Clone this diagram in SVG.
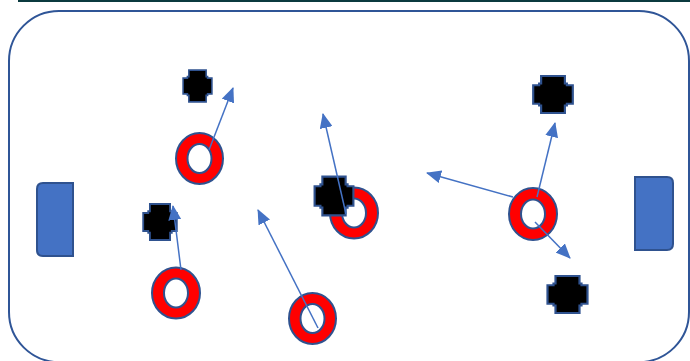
<svg xmlns="http://www.w3.org/2000/svg" width="690" height="361" viewBox="0 0 690 361">
<style>
.rink{fill:#FFFFFF;stroke:#2F5597;stroke-width:2}
.goal{fill:#4472C4;stroke:#2F528F;stroke-width:2}
.ring{fill:#FF0000;fill-rule:evenodd;stroke:#2F528F;stroke-width:2}
.cross{fill:#000000;stroke:#2F528F;stroke-width:2.2;vector-effect:non-scaling-stroke}
.arrow{fill:none;stroke:#4472C4;stroke-width:1.5;marker-end:url(#head)}
</style>
<defs>
<marker id="head" viewBox="0 0 15 13" refX="14" refY="6.5" markerWidth="15" markerHeight="13" markerUnits="userSpaceOnUse" orient="auto">
<path d="M0,0 L15,6.5 L0,13 Z" fill="#4472C4"/>
</marker>
<path id="crossShape" d="M-12,-20 H12 V-12 H14 V-10 H20 V10 H14 V12 H12 V20 H-12 V12 H-14 V10 H-20 V-10 H-14 V-12 H-12 Z"/>
</defs>
<rect width="690" height="361" fill="#FFFFFF"/>
<line x1="18" y1="1" x2="690" y2="1" stroke="#0B3A3F" stroke-width="2"/>
<g id="rink">
<rect class="rink" x="9" y="11" width="680" height="351" rx="50" ry="50"/>
</g>
<g id="goal-left">
<path class="goal" d="M73,183 V256 H43 Q37,256 37,250 V189 Q37,183 43,183 Z"/>
</g>
<g id="goal-right">
<path class="goal" d="M635,177 H667 Q673,177 673,183 V244 Q673,250 667,250 H635 Z"/>
</g>
<g id="ring-1"><path class="ring" d="M176,158.5 a23.5,25.5 0 1,0 47,0 a23.5,25.5 0 1,0 -47,0 Z M187.5,158.5 a12,14.5 0 1,0 24,0 a12,14.5 0 1,0 -24,0 Z"/></g>
<g id="ring-2"><path class="ring" d="M330,213 a24,25.5 0 1,0 48,0 a24,25.5 0 1,0 -48,0 Z M342,213 a12,14.5 0 1,0 24,0 a12,14.5 0 1,0 -24,0 Z"/></g>
<g id="ring-3"><path class="ring" d="M509,214 a24,26 0 1,0 48,0 a24,26 0 1,0 -48,0 Z M521,214 a12,14.5 0 1,0 24,0 a12,14.5 0 1,0 -24,0 Z"/></g>
<g id="ring-4"><path class="ring" d="M152,293 a24,25.5 0 1,0 48,0 a24,25.5 0 1,0 -48,0 Z M164,293 a12,14.5 0 1,0 24,0 a12,14.5 0 1,0 -24,0 Z"/></g>
<g id="ring-5"><path class="ring" d="M289,318.5 a23.5,25.5 0 1,0 47,0 a23.5,25.5 0 1,0 -47,0 Z M300.5,318.5 a12,14.5 0 1,0 24,0 a12,14.5 0 1,0 -24,0 Z"/></g>
<g id="cross-1"><use href="#crossShape" class="cross" transform="translate(197.5,86) scale(0.72,0.79)"/></g>
<g id="cross-2"><use href="#crossShape" class="cross" transform="translate(160,222) scale(0.84,0.9)"/></g>
<g id="cross-3"><use href="#crossShape" class="cross" transform="translate(334,196) scale(0.97,0.97)"/></g>
<g id="cross-4"><use href="#crossShape" class="cross" transform="translate(553,94.5) scale(0.99,0.92)"/></g>
<g id="cross-5"><use href="#crossShape" class="cross" transform="translate(567.5,294.5) scale(1.0,0.92)"/></g>
<g id="connectors">
<line class="arrow" x1="209" y1="150" x2="233" y2="88"/>
<line class="arrow" x1="346" y1="214" x2="323" y2="114"/>
<line class="arrow" x1="513" y1="197" x2="427" y2="173"/>
<line class="arrow" x1="537" y1="197" x2="555" y2="123"/>
<line class="arrow" x1="535" y1="222" x2="570" y2="258"/>
<line class="arrow" x1="181" y1="270" x2="173" y2="206"/>
<line class="arrow" x1="318" y1="328" x2="258" y2="210"/>
</g>
</svg>
